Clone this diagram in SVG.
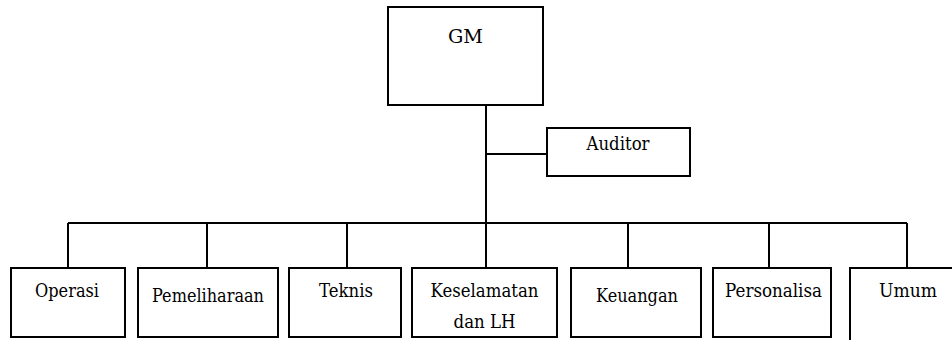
<svg xmlns="http://www.w3.org/2000/svg" width="952" height="340" viewBox="0 0 952 340">
  <style>
    .box { fill: #ffffff; stroke: #000000; stroke-width: 2; }
    .link { fill: none; stroke: #000000; stroke-width: 2; }
  </style>
  <rect x="0" y="0" width="952" height="340" fill="#ffffff"/>

  <g id="connectors">
    <path class="link" d="M486 105 V223"/>
    <path class="link" d="M486 154 H547"/>
    <path class="link" d="M68 223 H907"/>
    <path class="link" d="M68 223 V268"/>
    <path class="link" d="M207 223 V268"/>
    <path class="link" d="M347 223 V268"/>
    <path class="link" d="M486 223 V268"/>
    <path class="link" d="M628 223 V268"/>
    <path class="link" d="M769 223 V268"/>
    <path class="link" d="M907 223 V268"/>
  </g>

  <g font-family="DejaVu Serif, serif" font-size="18" fill="#000000" text-anchor="middle">
    <g id="gm">
      <rect class="box" x="388" y="7" width="155" height="98"/>
      <text x="465.5" y="43" textLength="35" lengthAdjust="spacingAndGlyphs">GM</text>
    </g>

    <g id="auditor">
      <rect class="box" x="547" y="128" width="143" height="48"/>
      <text x="618" y="150" textLength="63" lengthAdjust="spacingAndGlyphs">Auditor</text>
    </g>

    <g id="operasi">
      <rect class="box" x="11" y="268" width="114" height="69"/>
      <text x="67" y="297" textLength="64" lengthAdjust="spacingAndGlyphs">Operasi</text>
    </g>

    <g id="pemeliharaan">
      <rect class="box" x="138" y="268" width="140" height="69"/>
      <text x="208" y="302" textLength="112" lengthAdjust="spacingAndGlyphs">Pemeliharaan</text>
    </g>

    <g id="teknis">
      <rect class="box" x="289" y="268" width="112" height="69"/>
      <text x="346" y="297" textLength="54" lengthAdjust="spacingAndGlyphs">Teknis</text>
    </g>

    <g id="keselamatan">
      <rect class="box" x="412" y="268" width="145" height="69"/>
      <text x="484.5" y="297" textLength="108" lengthAdjust="spacingAndGlyphs">Keselamatan</text>
      <text x="484.5" y="328" textLength="62" lengthAdjust="spacingAndGlyphs">dan LH</text>
    </g>

    <g id="keuangan">
      <rect class="box" x="571" y="268" width="130" height="69"/>
      <text x="637" y="302" textLength="82" lengthAdjust="spacingAndGlyphs">Keuangan</text>
    </g>

    <g id="personalisa">
      <rect class="box" x="713" y="268" width="118" height="69"/>
      <text x="773.5" y="297" textLength="97" lengthAdjust="spacingAndGlyphs">Personalisa</text>
    </g>

    <g id="umum">
      <rect class="box" x="850" y="268" width="120" height="90"/>
      <text x="908" y="297" textLength="58" lengthAdjust="spacingAndGlyphs">Umum</text>
    </g>
  </g>
</svg>
